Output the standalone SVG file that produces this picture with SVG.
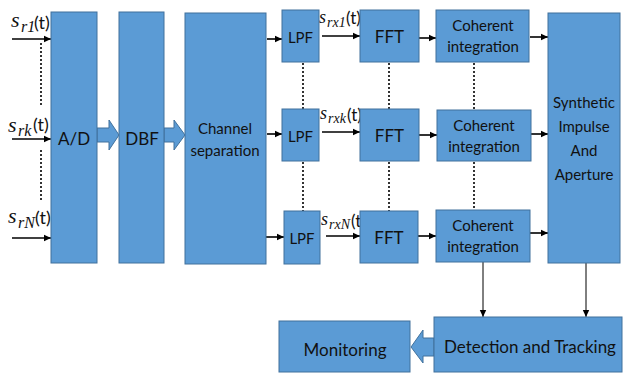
<svg xmlns="http://www.w3.org/2000/svg" width="623" height="373" viewBox="0 0 623 373">
<defs>
<marker id="ah" markerWidth="8" markerHeight="8" refX="7" refY="4" orient="auto" markerUnits="userSpaceOnUse">
<path d="M0,0.8 L7,4 L0,7.2 Z" fill="#000"/>
</marker>
<style>
.box{fill:#5B9BD5;stroke:#41719C;stroke-width:1}
.barr{fill:#5B9BD5;stroke:#41719C;stroke-width:1}
.t{font-family:Lato,"Liberation Sans",sans-serif;fill:#111;text-anchor:middle}
.conn{stroke:#000;stroke-width:1.6;fill:none;marker-end:url(#ah)}
.thin{stroke:#000;stroke-width:1;fill:none;marker-end:url(#ah)}
.dot{stroke:#333;stroke-width:2;stroke-dasharray:2 2;fill:none}
.mi{font-family:"Liberation Serif",serif;font-style:italic;fill:#111}
.mt{font-family:Lato,"Liberation Sans",sans-serif;fill:#111}
</style>
</defs>
<rect width="623" height="373" fill="#fff"/>

<g id="connectors">
<line class="conn" x1="12" y1="39" x2="51" y2="39"/>
<line class="conn" x1="12" y1="139" x2="51" y2="139"/>
<line class="conn" x1="12" y1="238" x2="51" y2="238"/>
<line class="dot" x1="41" y1="43" x2="41" y2="107"/>
<line class="dot" x1="41" y1="150" x2="41" y2="200"/>
<line class="conn" x1="267" y1="39" x2="282" y2="39"/>
<line class="conn" x1="267" y1="134" x2="282" y2="134"/>
<line class="conn" x1="266" y1="237" x2="284" y2="237"/>
<line class="conn" x1="322" y1="36" x2="360" y2="36"/>
<line class="conn" x1="322" y1="132" x2="360" y2="132"/>
<line class="conn" x1="326" y1="236" x2="360" y2="236"/>
<line class="conn" x1="419" y1="38" x2="436" y2="38"/>
<line class="conn" x1="419" y1="135" x2="437" y2="135"/>
<line class="conn" x1="418" y1="236" x2="436" y2="236"/>
<line class="conn" x1="530" y1="37" x2="548" y2="37"/>
<line class="conn" x1="531" y1="134" x2="548" y2="134"/>
<line class="conn" x1="530" y1="233" x2="548" y2="233"/>
<line class="dot" x1="303" y1="63" x2="303" y2="109"/>
<line class="dot" x1="303" y1="162" x2="303" y2="211"/>
<line class="dot" x1="389" y1="63" x2="389" y2="109"/>
<line class="dot" x1="389" y1="162" x2="389" y2="211"/>
<line class="dot" x1="474" y1="63" x2="474" y2="110"/>
<line class="dot" x1="474" y1="162" x2="474" y2="210"/>
<line class="thin" x1="483" y1="262" x2="483" y2="317"/>
<line class="thin" x1="586" y1="263" x2="586" y2="317"/>
<polygon class="barr" points="97,128 109,128 109,120 119,135 109,150 109,142 97,142"/>
<polygon class="barr" points="164,128 174,128 174,120 185,135 174,150 174,142 164,142"/>
<polygon class="barr" points="434,338 423,338 423,330 411,347 423,363 423,356 434,356"/>
</g>

<g id="lbl-inputs">
<text y="27"><tspan class="mi" x="11" font-size="22">s</tspan><tspan class="mi" x="21" y="32" font-size="16">r1</tspan><tspan class="mt" x="34" y="29" font-size="18">(t)</tspan></text>
<text y="132"><tspan class="mi" x="8" font-size="22">s</tspan><tspan class="mi" x="18" y="136" font-size="16">rk</tspan><tspan class="mt" x="33" y="131" font-size="18">(t)</tspan></text>
<text y="223"><tspan class="mi" x="8" font-size="22">s</tspan><tspan class="mi" x="18" y="228" font-size="16">rN</tspan><tspan class="mt" x="35" y="224" font-size="18">(t)</tspan></text>
<text y="23"><tspan class="mi" x="319" font-size="18">s</tspan><tspan class="mi" x="327" y="27" font-size="14">rx1</tspan><tspan class="mt" x="346" y="24" font-size="17">(t)</tspan></text>
<text y="119"><tspan class="mi" x="320" font-size="18">s</tspan><tspan class="mi" x="328" y="123" font-size="14">rxk</tspan><tspan class="mt" x="347" y="121" font-size="17">(t)</tspan></text>
<text y="225"><tspan class="mi" x="321" font-size="18">s</tspan><tspan class="mi" x="329" y="229" font-size="14">rxN</tspan><tspan class="mt" x="351" y="227" font-size="17">(t)</tspan></text>
</g>

<g id="ad"><rect class="box" x="51" y="12" width="46" height="251"/><text class="t" x="74" y="145" font-size="17">A/D</text></g>
<g id="dbf"><rect class="box" x="119" y="12" width="45" height="251"/><text class="t" x="142" y="145" font-size="17">DBF</text></g>
<g id="chsep"><rect class="box" x="185" y="13" width="81" height="251"/><text class="t" x="225" y="134" font-size="15">Channel</text><text class="t" x="225" y="156" font-size="15">separation</text></g>

<g id="lpf1"><rect class="box" x="282" y="10" width="37" height="52"/><text class="t" x="300.5" y="43" font-size="15">LPF</text></g>
<g id="lpfk"><rect class="box" x="282" y="109" width="37" height="52"/><text class="t" x="300.5" y="142" font-size="15">LPF</text></g>
<g id="lpfn"><rect class="box" x="284" y="211" width="36" height="53"/><text class="t" x="302" y="244" font-size="15">LPF</text></g>

<g id="fft1"><rect class="box" x="360" y="10" width="59" height="52"/><text class="t" x="389.5" y="43" font-size="17">FFT</text></g>
<g id="fftk"><rect class="box" x="360" y="109" width="59" height="52"/><text class="t" x="389.5" y="142" font-size="17">FFT</text></g>
<g id="fftn"><rect class="box" x="360" y="211" width="58" height="52"/><text class="t" x="389" y="244" font-size="17">FFT</text></g>

<g id="ci1"><rect class="box" x="436" y="10" width="93" height="52"/><text class="t" x="483" y="31" font-size="15">Coherent</text><text class="t" x="483" y="52" font-size="15">integration</text></g>
<g id="cik"><rect class="box" x="437" y="110" width="94" height="51"/><text class="t" x="484" y="131" font-size="15">Coherent</text><text class="t" x="484" y="152" font-size="15">integration</text></g>
<g id="cin"><rect class="box" x="436" y="210" width="94" height="52"/><text class="t" x="483" y="231" font-size="15">Coherent</text><text class="t" x="483" y="252" font-size="15">integration</text></g>

<g id="synth"><rect class="box" x="548" y="13" width="72" height="250"/><text class="t" x="584" y="108" font-size="15">Synthetic</text><text class="t" x="584" y="132" font-size="15">Impulse</text><text class="t" x="584" y="156" font-size="15">And</text><text class="t" x="584" y="180" font-size="15">Aperture</text></g>

<g id="detect"><rect class="box" x="434" y="317" width="188" height="55"/><text class="t" x="530" y="353" font-size="17">Detection and Tracking</text></g>
<g id="monitor"><rect class="box" x="279" y="321" width="131" height="51"/><text class="t" x="345" y="356" font-size="17">Monitoring</text></g>
</svg>
